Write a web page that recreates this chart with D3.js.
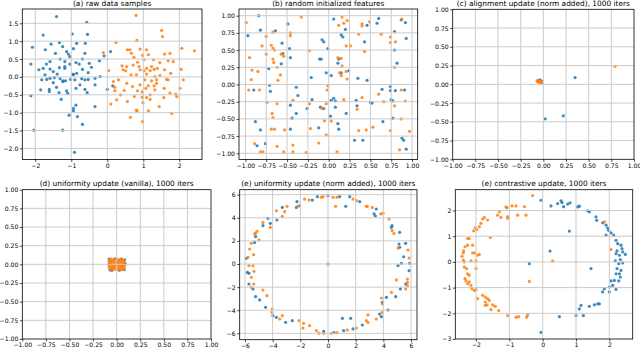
<!DOCTYPE html>
<html>
<head>
<meta charset="utf-8">
<script src="https://cdn.jsdelivr.net/npm/d3@7"></script>
<style>
  body { margin: 0; background: #fff; }
  svg { display: block; font-family: "DejaVu Sans", sans-serif; }
  .grid line { stroke: #cbcbcb; stroke-width: 1; }
  .tick text { fill: #000; }
</style>
</head>
<body>
<div id="chart"></div>
<script>
// size of the whole figure
var width = 640,
    height = 349;

var blueColor = "#1f77b4",
    orangeColor = "#ff7f0e";

// panel titles
var titles = [
  "(a) raw data samples",
  "(b) random initialized features",
  "(c) alignment update (norm added), 1000 iters",
  "(d) uniformity update (vanilla), 1000 iters",
  "(e) uniformity update (norm added), 1000 iters",
  "(e) contrastive update, 1000 iters"
];

// tick values
var ticksA_x = [-2, -1, 0, 1, 2];
var ticksA_y = [-2, -1.5, -1, -0.5, 0, 0.5, 1, 1.5];
var ticksUnit = [-1, -0.75, -0.5, -0.25, 0, 0.25, 0.5, 0.75, 1];
var ticksE = [-6, -4, -2, 0, 2, 4, 6];
var ticksF_x = [-2, -1, 0, 1, 2];
var ticksF_y = [-3, -2, -1, 0, 1, 2];

// (a) raw data samples
var aBlue = [[-1.41,1.69],[-0.57,1.53],[-1.78,1.17],[-0.97,1.2],[-0.55,1.19],[-2.08,0.83],[-1.56,0.92],[-1.33,0.96],
  [-1.72,0.76],[-1.24,0.85],[-0.85,0.94],[-0.61,0.94],[-0.94,0.79],[-1.44,0.66],[-1.13,0.71],[-1.08,0.64],[-1.04,0.57],
  [-0.62,0.66],[-0.69,0.5],[-1.31,0.5],[-1.59,0.43],[-1.69,0.36],[-2.12,0.36],[-1.18,0.43],[-0.87,0.4],[-0.78,0.36],
  [-0.5,0.38],[-0.22,0.45],[0.09,0.71],[-0.09,0.59],[-1.78,0.24],[-1.9,0.2],[-1.59,0.22],[-1.5,0.15],[-1.33,0.26],
  [-1.18,0.29],[-1.04,0.36],[-0.94,0.07],[-0.85,0.1],[-0.69,0.21],[-0.53,0.12],[-0.44,0.27],[-0.2,0.01],[-1.82,-0.08],
  [-1.68,-0.07],[-1.59,-0.04],[-1.47,-0.02],[-1.31,-0.05],[-1.22,-0.11],[-1.16,-0.11],[-1.02,-0.07],[-0.96,0.07],
  [-0.9,-0.08],[-0.71,-0.05],[-0.62,-0.08],[-0.53,-0.07],[-0.34,-0.04],[-1.5,-0.16],[-1.61,-0.35],[-1.41,-0.29],
  [-1.85,-0.36],[-1.61,-0.41],[-1.34,-0.44],[-1.13,-0.39],[-1.1,-0.46],[-0.87,-0.32],[-0.76,-0.22],[-0.62,-0.35],
  [-0.56,-0.44],[-0.34,-0.22],[0,-0.35],[0.15,-0.25],[-2.12,-0.53],[-1.28,-0.63],[-0.94,-0.88],[-0.94,-0.95],
  [-0.87,-0.79],[-0.34,-0.83],[-1.06,-1.07],[-0.83,-1.11],[-0.69,-1.33],[-2.04,-1.49],[-1.24,-1.49],[-0.91,-2.11],
  [-1.18,0.24],[-1.24,-0.13],[-1.39,0.08],[-1.73,0.06]];
var aOrange = [[0.8,1.72],[1.51,1.3],[1.53,1.13],[0.82,1.02],[0.24,0.96],[-0.11,0.68],[0.56,0.76],[0.63,0.76],
  [0.91,0.78],[1.09,0.76],[0.67,0.66],[0.74,0.55],[0.98,0.6],[1.14,0.62],[1.59,0.64],[1.74,0.66],[2.07,0.8],[2.42,0.73],
  [1.28,0.48],[1.46,0.4],[1.69,0.45],[1.83,0.43],[0.84,0.41],[1.02,0.48],[0.41,0.31],[0.54,0.29],[0.72,0.33],[0.88,0.29],
  [1.09,0.24],[1.23,0.29],[1.3,0.21],[1.39,0.24],[1.59,0.2],[2.05,0.21],[0.04,0.18],[0.44,0.2],[0.51,0.17],[0.91,0.2],
  [1.02,0.17],[1.19,0.18],[1.76,0.1],[0.81,0.06],[0.66,0.06],[1.09,0.08],[1.32,0.01],[1.46,0.04],[1.65,-0.07],
  [1.69,-0.08],[2.11,-0.08],[1.04,-0.08],[1.23,-0.11],[0.17,-0.13],[0.31,-0.08],[1.37,-0.18],[0.54,-0.18],[0.91,-0.22],
  [1.14,-0.25],[1.3,-0.25],[0.21,-0.29],[0.47,-0.38],[0.84,-0.39],[1.07,-0.32],[1.32,-0.36],[1.58,-0.32],[2.02,-0.32],
  [1.74,-0.45],[1.9,-0.48],[1.93,-0.55],[0.21,-0.39],[0.37,-0.5],[0.75,-0.55],[0.97,-0.57],[1.09,-0.58],[1.19,-0.63],
  [1.57,-0.58],[0.26,-0.64],[0.1,-0.76],[0.56,-0.69],[0.99,-0.72],[1.44,-0.83],[0.81,-0.93],[0.83,-0.95],[1.14,-0.95],
  [1.79,-1.02],[0.64,-1.13],[0.98,-1.25],[1.19,-0.5],[0.7,-0.27],[1.37,-0.08],[0.97,-0.42]];

// (b) random initialized features
var bBlue = [[-0.84,1],[-0.97,0.71],[-0.82,0.79],[-0.64,0.78],[-0.49,0.88],[0.06,0.95],[0.2,0.8],[0.15,0.72],
  [0.17,0.69],[0.46,0.86],[0.58,0.89],[0.6,0.96],[0.87,0.94],[0.92,0.9],[0.79,0.77],[0.93,0.67],[0.79,0.5],[0.43,0.62],
  [-0.08,0.65],[-0.06,0.62],[-0.01,0.52],[-0.56,0.6],[-0.47,0.52],[-0.55,0.45],[-0.57,0.3],[-0.46,0.39],[-0.72,0.23],
  [-0.11,0.37],[-0.09,0.37],[0.12,0.37],[0.11,0.31],[0.82,0.31],[-0.03,0.17],[0.03,0.13],[0.15,0.17],[0.24,0.2],
  [0.35,0.09],[0.46,0.06],[-0.21,0.1],[-0.71,-0.01],[-0.39,-0.04],[-0.9,-0.08],[-0.7,-0.1],[-0.37,-0.16],[0.64,-0.07],
  [0.74,-0.09],[0.8,-0.09],[0.91,-0.08],[0.74,-0.03],[-0.2,-0.22],[0.03,-0.23],[0.06,-0.2],[0.08,-0.24],[0.33,-0.23],
  [0.5,-0.26],[0.52,-0.27],[0.75,-0.22],[0.77,-0.24],[-0.46,-0.3],[0.34,-0.31],[-0.1,-0.33],[-0.06,-0.35],[0.08,-0.33],
  [-0.39,-0.42],[0.21,-0.42],[-0.26,-0.35],[-0.44,-0.49],[0.02,-0.46],[-0.88,-0.54],[0.65,-0.54],[0.77,-0.49],
  [0.11,-0.57],[-0.12,-0.63],[-0.82,-0.66],[-0.46,-0.65],[0.12,-0.65],[0.31,-0.81],[0.41,-0.81],[0.88,-0.78],
  [0.9,-0.81],[-0.86,-0.89],[-0.76,-0.86],[0.93,-0.94]];
var bOrange = [[-0.99,0.9],[-0.75,0.7],[-0.67,0.76],[-0.33,0.98],[-0.46,0.75],[-0.46,0.71],[0.16,0.98],[0.12,0.86],
  [0.18,0.89],[0.22,0.93],[0.4,0.88],[0.4,0.85],[0.49,0.91],[0.36,0.73],[0.63,0.73],[0.74,0.69],[0.74,0.61],[0.8,0.62],
  [0.88,0.95],[0.21,0.56],[0.26,0.56],[0.43,0.48],[-0.23,0.49],[-0.8,0.56],[-0.69,0.57],[-0.67,0.53],[-0.65,0.5],
  [-0.75,0.44],[-0.57,0.44],[-0.54,0.41],[-0.67,0.37],[-0.66,0.32],[-0.95,0.39],[-0.92,0.21],[-0.85,0.19],[-0.62,0.25],
  [0.11,0.39],[0.15,0.38],[0.16,0.27],[0.13,0.17],[0.15,0.13],[0.21,0.19],[0.22,0.08],[0.79,0.25],[-0.93,0.07],
  [-0.61,0.06],[-0.58,0.14],[-0.01,-0.02],[-0.02,-0.08],[-0.96,-0.08],[-0.83,-0.08],[0.87,-0.08],[0.6,-0.14],
  [0.4,-0.19],[-0.74,-0.26],[-0.62,-0.28],[-0.43,-0.23],[-0.23,-0.28],[-0.08,-0.35],[-0.03,-0.28],[0.18,-0.22],
  [0.66,-0.25],[0.92,-0.24],[0.79,-0.31],[-0.68,-0.42],[-0.67,-0.48],[-0.05,-0.53],[0.03,-0.53],[0.34,-0.36],
  [0.87,-0.5],[0.53,-0.62],[-0.69,-0.65],[-0.65,-0.65],[-0.53,-0.66],[-0.22,-0.64],[0.36,-0.67],[0.45,-0.66],
  [-0.03,-0.73],[0.74,-0.67],[-0.89,-0.86],[-0.62,-0.9],[-0.43,-0.88],[-0.12,-0.85],[-0.82,-0.98],[-0.79,-0.98],
  [-0.54,-0.98],[-0.43,-0.98],[-0.27,-0.99],[0.1,-0.98],[0.85,-0.95],[0.97,-0.68]];

// (c) alignment update
var cBlue = [[0.35,0.09],[0.22,-0.42],[0.02,-0.46],[-0.04,0.06],[-0.03,0.05],[-0.05,0.05],[-0.02,0.04],[-0.03,0.03]];
var cOrange = [[0.79,0.24],[-0.07,0.045],[-0.06,0.05],[-0.05,0.04],[-0.045,0.03],[-0.04,0.05],[-0.035,0.02],
  [-0.03,0.035],[-0.025,0.025],[-0.02,0.03],[-0.015,0.02],[-0.05,0.025],[-0.06,0.035],[-0.02,0.015],[-0.04,0.04]];

// (d) uniformity update (vanilla)
var dBlue = [[-0.08,0.07],[-0.07,-0.075],[0.085,0.06],[0.08,-0.07],[-0.02,0.075],[0.03,-0.078],[-0.082,0],
  [0.09,0.01],[0.05,0.07],[-0.05,-0.08],[0.01,0.02],[-0.03,-0.03]];
var dOrange = [[-0.075,0.065],[-0.06,0.07],[-0.04,0.06],[-0.02,0.065],[0,0.07],[0.02,0.06],[0.04,0.068],[0.06,0.065],
  [0.08,0.05],[-0.08,0.04],[-0.06,0.035],[-0.035,0.04],[-0.01,0.045],[0.02,0.035],[0.045,0.04],[0.07,0.03],
  [-0.075,0.015],[-0.05,0.01],[-0.025,0.015],[0.03,0.012],[0.055,0.01],[0.08,0.015],[-0.07,-0.01],[-0.045,-0.015],
  [-0.02,-0.01],[0.015,-0.012],[0.04,-0.015],[0.065,-0.01],[0.085,-0.02],[-0.08,-0.035],[-0.055,-0.04],
  [-0.03,-0.035],[0,-0.04],[0.025,-0.035],[0.05,-0.04],[0.075,-0.045],[-0.07,-0.065],[-0.045,-0.07],[-0.02,-0.065],
  [0.01,-0.07],[0.035,-0.065],[0.06,-0.07],[0.08,-0.06],[-0.065,0.05],[0.005,0.025],[0.06,-0.025],[-0.04,-0.055],
  [0.03,0.05]];

// (e) uniformity update (norm added)
var eBlue = [[-0.77,5.83],[0,5.91],[0.84,5.83],[1.57,5.83],[1.28,4.99],[2.29,5.39],[3.49,4.76],[3.33,4.33],[3.42,4.15],
  [4.63,3.32],[4.58,3.17],[5.18,2.74],[5.13,1.73],[5.18,1.44],[5.61,1.79],[5.47,0.63],[5.9,0.06],[5.86,-0.58],
  [5.3,0.06],[5.06,-0.14],[5.23,-2.16],[5.61,-1.73],[4.89,-2.83],[4.22,-2.88],[3.93,-3.32],[4.34,-3.98],[3.86,-4.56],
  [3.73,-4.33],[2.48,-5.28],[1.81,-5.62],[1.64,-4.7],[1.04,-4.7],[1.13,-5.77],[0.43,-5.94],[-0.31,-5.83],[-2.58,-4.9],
  [-3.06,-5.05],[-3.73,-4.61],[-3.98,-4.47],[-4.51,-3.75],[-4.94,-3.11],[-5.23,-2.83],[-5.42,-2.16],[-5.71,-1.73],
  [-5.71,-0.81],[-5.83,-0.72],[-5.9,0.49],[-5.23,2.37],[-5.3,1.87],[-4.7,3.32],[-4.17,3.52],[-4.34,3.95],[-3.69,3.81],
  [-3.3,4.9],[-2.24,5.39],[-2.29,4.9],[-1.13,5.53],[-2.05,5.04],[0,0]];
var eOrange = [[-0.36,5.83],[0.36,5.77],[0.65,5.77],[0.55,4.99],[1.81,5.62],[2.05,5.48],[2.77,4.99],[2.84,4.99],
  [3.2,4.9],[3.81,4.33],[3.98,4.38],[4.41,3.89],[4.63,2.88],[4.77,2.65],[5.06,1.38],[5.78,1.21],[5.86,0.52],
  [4.94,-1.38],[5.74,-1.3],[5.74,-1.59],[5.74,-1.87],[5.61,-2.16],[4.58,-2.45],[3.86,-2.94],[3.93,-3.46],[3.93,-4.18],
  [3.49,-4.76],[2.89,-4.41],[2.77,-4.9],[2.89,-5.05],[2.05,-5.54],[1.4,-5.71],[0.65,-5.94],[0.24,-6],[-0.31,-6],
  [-0.84,-5.77],[-0.65,-6],[-1.33,-5.34],[-1.81,-5.54],[-1.76,-5.13],[-2.1,-4.9],[-3.3,-4.47],[-3.49,-4.76],
  [-4.02,-3.89],[-4.05,-4.18],[-4.41,-2.74],[-4.7,-2.25],[-5.54,-2.02],[-5.37,-1.73],[-5.54,-1.15],[-5.35,-0.63],
  [-5.42,-0.14],[-5.71,-0.14],[-5.78,0.58],[-5.37,0.81],[-5.66,1.3],[-5.54,1.79],[-5.23,2.65],[-5.13,2.83],
  [-5.3,2.6],[-4.99,2.08],[-4.7,3.6],[-4.17,3.17],[-3.73,4.61],[-3.3,4.12],[-3.13,4.53],[-2.96,4.99],[-2.17,4.99],
  [-1.37,5.53],[-1.69,5.62],[-0.48,5.77],[0,0]];

// (e) contrastive update
var fBlue = [[-0.05,2.4],[0.25,2.18],[0.45,2.27],[0.55,2.38],[0.58,2.31],[0.75,2.25],[0.82,2.3],[1.05,2.14],[1.1,2.17],
  [1.35,1.99],[1.4,1.95],[1.6,1.75],[1.62,1.62],[1.8,1.52],[1.9,1.43],[1.95,1.32],[1.98,1.23],[2.05,1.13],[2.13,1.04],
  [2.2,0.84],[2.25,0.71],[2.35,0.65],[2.38,0.52],[2.4,0.39],[2.48,0.29],[2.3,0.26],[2.2,0.32],[2.33,0.09],[2.28,-0.07],
  [2.4,-0.04],[2.23,-0.26],[2.35,-0.33],[2.2,-0.46],[2.33,-0.59],[2.15,-0.72],[2.28,-0.74],[2.05,-0.74],[2.1,-0.91],
  [2,-0.98],[2.2,-1.07],[1.85,-1.04],[1.8,-1.17],[2,-1.17],[1.65,-1.63],[1.55,-1.67],[1.4,-1.73],[1.15,-1.69],
  [1.1,-1.83],[1,-2.09],[1.22,-2.09],[0.5,-2.13],[-0.05,-2.74],[0.22,0.42],[-0.4,-0.07],[0.8,1.2],[1.45,-0.26],
  [2.23,0.43],[2.18,0.04],[2.3,-0.46],[1.7,-1.63],[1.9,1.04],[0.63,2.15]];
var fOrange = [[-0.3,2.58],[-0.92,2.18],[-0.8,2.18],[-0.55,2.15],[-1.1,2.14],[-1.07,2.11],[-0.75,1.82],[-0.5,1.82],
  [-1.3,1.95],[-1.35,1.82],[-1.25,1.73],[-1.05,1.7],[-1.05,1.76],[-1.75,1.73],[-1.8,1.67],[-1.65,1.63],[-1.85,1.5],
  [-1.9,1.37],[-2.02,1.33],[-1.98,1.26],[-2.07,1.21],[-2.2,0.91],[-2.25,0.91],[-1.57,0.95],[-2.25,0.65],[-2.1,0.65],
  [-2.33,0.59],[-2.37,0.43],[-2.38,0.35],[-2.42,0.22],[-2.1,0.35],[-2.03,0.35],[-1.95,0.26],[-1.9,0.29],[-2.38,0.07],
  [-2.35,0],[-2.15,0.04],[-2,0.04],[-2.35,-0.2],[-2.28,-0.26],[-2,-0.26],[-2.25,-0.46],[-2.2,-0.52],[-2.33,-0.65],
  [-2.3,-0.74],[-2.25,-0.85],[-2.2,-0.78],[-2.15,-0.91],[-2.12,-1.04],[-2.05,-1.11],[-2,-1.08],[-1.95,-1.43],
  [-1.8,-1.3],[-1.72,-1.37],[-1.65,-1.43],[-1.6,-1.5],[-1.72,-1.56],[-1.67,-1.67],[-1.55,-1.86],[-1.5,-1.67],
  [-1.42,-1.73],[-1.32,-1.89],[-1.72,-1.69],[-1.05,-2.09],[-0.8,-2.15],[-0.72,-2.13],[-0.48,-2.15],[-0.45,-2.06],
  [-0.4,-0.76],[0.3,0.04],[1.85,1.56],[2.05,0.48]];

/**** panel layout: box is [left, top, right, bottom] in pixels ****/
var fmt1 = function(d) { return d3.format(".1f")(d).replace("-", "\u2212"); };
var fmt2 = function(d) { return d3.format(".2f")(d).replace("-", "\u2212"); };
var fmt0 = function(d) { return d3.format("d")(d).replace("-", "\u2212"); };

var panels = [
  { box: [22.3, 9, 202, 159.5], xd: [-2.36, 2.63], yd: [-2.31, 1.9], xt: ticksA_x, yt: ticksA_y, xf: fmt0, yf: fmt1, blue: aBlue, orange: aOrange, titleY: 6 },
  { box: [239, 9, 417.7, 159.5], xd: [-1.077, 1.068], yd: [-1.09, 1.097], xt: ticksUnit, yt: ticksUnit, xf: fmt2, yf: fmt2, blue: bBlue, orange: bOrange, titleY: 6 },
  { box: [452.7, 9.3, 634, 159.3], xd: [-1, 1], yd: [-1, 1], xt: ticksUnit, yt: ticksUnit, xf: fmt2, yf: fmt2, blue: cBlue, orange: cOrange, titleY: 6 },
  { box: [22.3, 189.7, 211, 339], xd: [-1, 1], yd: [-1, 1], xt: ticksUnit, yt: ticksUnit, xf: fmt2, yf: fmt2, blue: dBlue, orange: dOrange, titleY: 186 },
  { box: [239.7, 189.7, 417, 339.7], xd: [-6.38, 6.43], yd: [-6.55, 6.43], xt: ticksE, yt: ticksE, xf: fmt0, yf: fmt0, blue: eBlue, orange: eOrange, titleY: 186 },
  { box: [455.3, 189.7, 632.7, 339], xd: [-2.62, 2.7], yd: [-3, 2.81], xt: ticksF_x, yt: ticksF_y, xf: fmt0, yf: fmt0, blue: fBlue, orange: fOrange, titleY: 186 }
];

var svg = d3.select("#chart").append("svg")
    .attr("width", width)
    .attr("height", height);

panels.forEach(function(p, i) {
  var x = d3.scaleLinear().domain(p.xd).range([p.box[0], p.box[2]]);
  var y = d3.scaleLinear().domain(p.yd).range([p.box[3], p.box[1]]);

  var g = svg.append("g").attr("class", "panel");

  // clip so points stay inside the axes
  var clipId = "clip" + i;
  g.append("clipPath").attr("id", clipId)
    .append("rect")
      .attr("x", p.box[0]).attr("y", p.box[1])
      .attr("width", p.box[2] - p.box[0]).attr("height", p.box[3] - p.box[1]);

  // scatter, blue first then orange
  var dots = g.append("g").attr("clip-path", "url(#" + clipId + ")");
  [[p.blue, blueColor], [p.orange, orangeColor]].forEach(function(s) {
    dots.selectAll(null)
      .data(s[0])
      .enter().append("circle")
        .attr("cx", function(d) { return x(d[0]); })
        .attr("cy", function(d) { return y(d[1]); })
        .attr("r", 1.6)
        .attr("fill", s[1])
        .attr("fill-opacity", 0.85);
  });

  // grid lines sit above the points, like matplotlib does
  var grid = g.append("g").attr("class", "grid");
  grid.selectAll(".gx")
    .data(p.xt.filter(function(t) { return t > p.xd[0] && t < p.xd[1]; }))
    .enter().append("line")
      .attr("x1", function(d) { return x(d); }).attr("x2", function(d) { return x(d); })
      .attr("y1", p.box[1]).attr("y2", p.box[3]);
  grid.selectAll(".gy")
    .data(p.yt.filter(function(t) { return t > p.yd[0] && t < p.yd[1]; }))
    .enter().append("line")
      .attr("y1", function(d) { return y(d); }).attr("y2", function(d) { return y(d); })
      .attr("x1", p.box[0]).attr("x2", p.box[2]);

  // axes
  var xAxis = g.append("g")
      .attr("transform", "translate(0," + p.box[3] + ")")
      .call(d3.axisBottom(x).tickValues(p.xt).tickFormat(p.xf).tickSize(2.5).tickPadding(1.5));
  var yAxis = g.append("g")
      .attr("transform", "translate(" + p.box[0] + ",0)")
      .call(d3.axisLeft(y).tickValues(p.yt).tickFormat(p.yf).tickSize(2.5).tickPadding(1.5));
  [xAxis, yAxis].forEach(function(a) {
    a.select(".domain").remove();
    a.selectAll("text").attr("font-size", 6.1).attr("font-family", "DejaVu Sans");
    a.selectAll("line").attr("stroke", "#000").attr("stroke-width", 0.7);
  });

  // frame
  g.append("rect")
    .attr("x", p.box[0]).attr("y", p.box[1])
    .attr("width", p.box[2] - p.box[0]).attr("height", p.box[3] - p.box[1])
    .attr("fill", "none").attr("stroke", "#000").attr("stroke-width", 0.8);

  // title
  g.append("text")
    .attr("x", (p.box[0] + p.box[2]) / 2)
    .attr("y", p.titleY)
    .attr("text-anchor", "middle")
    .attr("font-size", 7.4)
    .text(titles[i]);
});
</script>
</body>
</html>
